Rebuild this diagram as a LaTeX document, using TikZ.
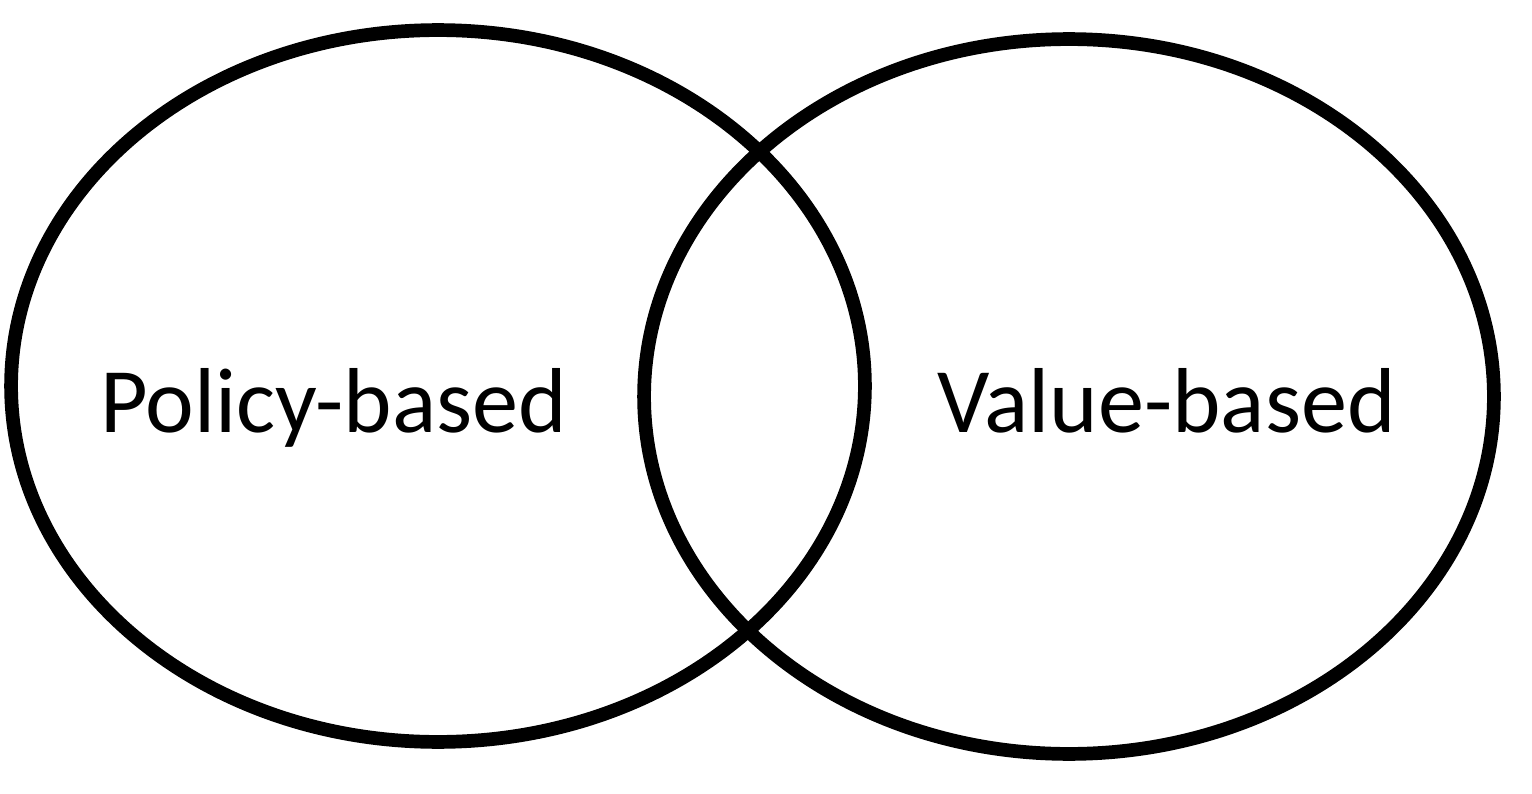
\documentclass[tikz,border=0pt]{standalone}
\usepackage{fontspec}
\setmainfont{Carlito}
\usetikzlibrary{positioning, shapes.geometric}

\begin{document}
\begin{tikzpicture}[x=0.02cm, y=-0.02cm,
    setring/.style={draw, ellipse, line width=7.8pt, inner sep=0pt},
    setlabel/.style={font=\fontsize{52.5}{60}\selectfont, anchor=base}]
    \useasboundingbox (0,0) rectangle (1532,794);

    % the two sets
    \node[setring, minimum width=17.08cm, minimum height=14.24cm] (policy) at (438,386) {};
    \node[setring, minimum width=17.0cm, minimum height=14.3cm] (value) at (1069,396.5) {};

    % set names
    \node[setlabel] (policylabel) at (333.5,432) {Policy-based};
    \node[setlabel] (valuelabel) at (1166.5,432) {Value-based};
\end{tikzpicture}
\end{document}
